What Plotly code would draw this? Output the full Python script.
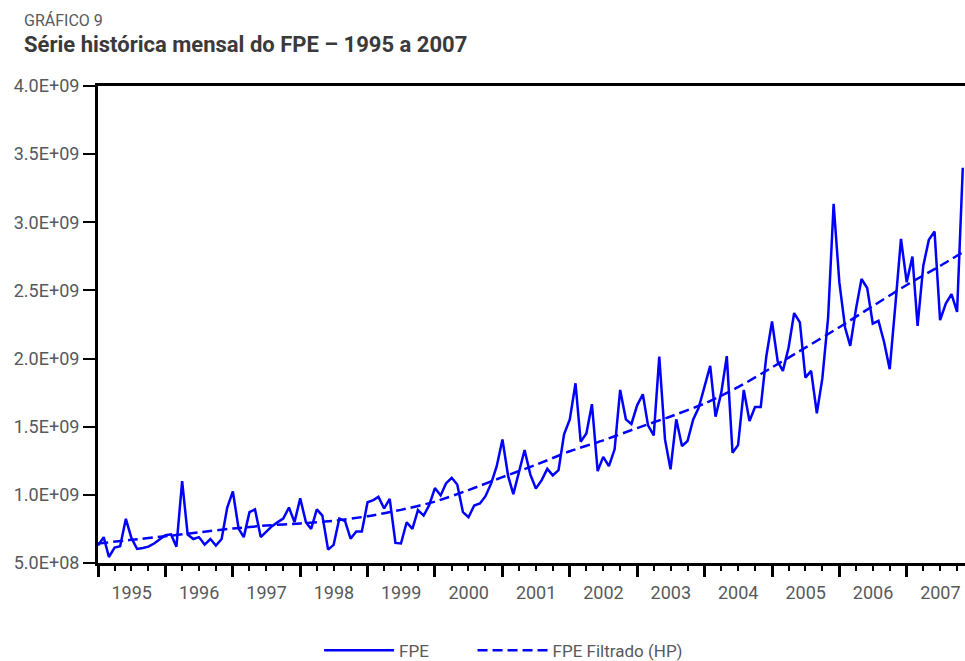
import pandas as pd
import plotly.graph_objects as go

# serie mensal do FPE (jan/1995 - nov/2007)
fpe = [
    6.28e8, 6.90e8, 5.44e8, 6.13e8, 6.23e8, 8.24e8, 6.84e8, 6.03e8, 6.10e8, 6.20e8, 6.43e8, 6.72e8,
    7.04e8, 7.10e8, 6.20e8, 1.100e9, 7.09e8, 6.76e8, 6.90e8, 6.35e8, 6.76e8, 6.28e8, 6.76e8, 9.04e8,
    1.025e9, 7.53e8, 6.90e8, 8.73e8, 8.93e8, 6.90e8, 7.28e8, 7.70e8, 8.00e8, 8.26e8, 9.07e8, 8.00e8,
    9.74e8, 7.99e8, 7.50e8, 8.93e8, 8.48e8, 5.98e8, 6.33e8, 8.26e8, 8.07e8, 6.79e8, 7.31e8, 7.31e8,
    9.46e8, 9.61e8, 9.85e8, 9.00e8, 9.71e8, 6.47e8, 6.43e8, 7.99e8, 7.50e8, 8.88e8, 8.48e8, 9.24e8,
    1.050e9, 9.96e8, 1.084e9, 1.125e9, 1.076e9, 8.73e8, 8.36e8, 9.22e8, 9.37e8, 9.90e8, 1.084e9, 1.210e9,
    1.407e9, 1.137e9, 1.005e9, 1.162e9, 1.329e9, 1.150e9, 1.047e9, 1.106e9, 1.191e9, 1.143e9, 1.182e9, 1.444e9,
    1.554e9, 1.819e9, 1.390e9, 1.451e9, 1.665e9, 1.174e9, 1.279e9, 1.211e9, 1.334e9, 1.770e9, 1.554e9, 1.520e9,
    1.657e9, 1.738e9, 1.510e9, 1.437e9, 2.015e9, 1.407e9, 1.187e9, 1.554e9, 1.358e9, 1.395e9, 1.554e9, 1.640e9,
    1.800e9, 1.946e9, 1.574e9, 1.750e9, 2.018e9, 1.309e9, 1.365e9, 1.770e9, 1.542e9, 1.645e9, 1.645e9, 2.015e9,
    2.272e9, 1.978e9, 1.910e9, 2.081e9, 2.334e9, 2.265e9, 1.860e9, 1.910e9, 1.599e9, 1.856e9, 2.300e9, 3.135e9,
    2.559e9, 2.228e9, 2.093e9, 2.363e9, 2.584e9, 2.518e9, 2.257e9, 2.277e9, 2.118e9, 1.922e9, 2.400e9, 2.878e9,
    2.560e9, 2.748e9, 2.240e9, 2.682e9, 2.871e9, 2.932e9, 2.282e9, 2.404e9, 2.473e9, 2.343e9, 3.400e9,
]
meses = pd.date_range("1995-01-01", periods=len(fpe), freq="MS")

# tendencia HP (lida semestralmente)
hp_idx = [0, 6, 12, 18, 24, 30, 36, 42, 48, 54, 60, 66, 72, 78, 84, 90, 96, 102,
          108, 114, 120, 126, 132, 138, 144, 150, 154]
hp = [6.43e8, 6.70e8, 6.96e8, 7.25e8, 7.53e8, 7.75e8, 7.90e8, 8.10e8, 8.43e8, 8.90e8,
      9.50e8, 1.035e9, 1.130e9, 1.220e9, 1.320e9, 1.400e9, 1.490e9, 1.575e9, 1.670e9,
      1.790e9, 1.935e9, 2.080e9, 2.230e9, 2.385e9, 2.540e9, 2.680e9, 2.780e9]
hp_meses = meses[hp_idx]

y_ticks = [5e8, 1e9, 1.5e9, 2e9, 2.5e9, 3e9, 3.5e9, 4e9]
y_labels = ["5.0E+08", "1.0E+09", "1.5E+09", "2.0E+09", "2.5E+09", "3.0E+09", "3.5E+09", "4.0E+09"]

fonte = "Roboto, sans-serif"
cinza = "#58595b"
azul = "#0000ff"

fig = go.Figure()
fig.add_trace(go.Scatter(x=meses, y=fpe, mode="lines", name="FPE", legend="legend",
                         line=dict(color=azul, width=2.5)))
fig.add_trace(go.Scatter(x=hp_meses, y=hp, mode="lines", name="FPE Filtrado (HP)", legend="legend2",
                         line=dict(color=azul, width=2.5, dash="10px,5px", shape="spline", smoothing=0.6)))

leg = dict(orientation="h", xanchor="left", y=-0.184, yanchor="middle",
           itemwidth=70, font=dict(size=17, color=cinza), bgcolor="rgba(0,0,0,0)")

fig.update_layout(
    width=965, height=661,
    margin=dict(l=98, r=0, t=86, b=98, autoexpand=False),
    paper_bgcolor="white", plot_bgcolor="white",
    font=dict(family=fonte, size=18, color=cinza),
    showlegend=True,
    legend=dict(leg, x=0.255),
    legend2=dict(leg, x=0.432),
    annotations=[
        dict(text="GRÁFICO 9", xref="paper", yref="paper", x=-0.0877, y=1.138,
             xanchor="left", yanchor="middle", showarrow=False,
             font=dict(size=16, color=cinza)),
        dict(text="<b>Série histórica mensal do FPE – 1995 a 2007</b>", xref="paper", yref="paper",
             x=-0.0877, y=1.088, xanchor="left", yanchor="middle", showarrow=False,
             font=dict(size=22, color="#3a3a3c")),
    ],
)

fig.update_xaxes(
    type="date", range=["1995-01-01", "2007-11-13"], automargin=False,
    tick0="1995-01-01", dtick="M12", tickformat="%Y", ticklabelmode="period",
    ticks="outside", ticklen=11, tickwidth=2.5, tickcolor="black",
    minor=dict(dtick="M3", tick0="1995-01-01", ticks="outside", ticklen=5, tickwidth=2, tickcolor="black"),
    showline=True, linecolor="black", linewidth=3, mirror=True,
    showgrid=False, zeroline=False,
)
fig.update_yaxes(
    range=[5e8, 4e9], tickvals=y_ticks, ticktext=y_labels, automargin=False,
    ticks="outside", ticklen=12, tickwidth=2, tickcolor="black",
    showline=True, linecolor="black", linewidth=3,
    showgrid=False, zeroline=False,
)

fig.write_html("out.html", config={"displayModeBar": False},
               post_script="document.body.style.margin='0';document.body.style.overflow='hidden';")
